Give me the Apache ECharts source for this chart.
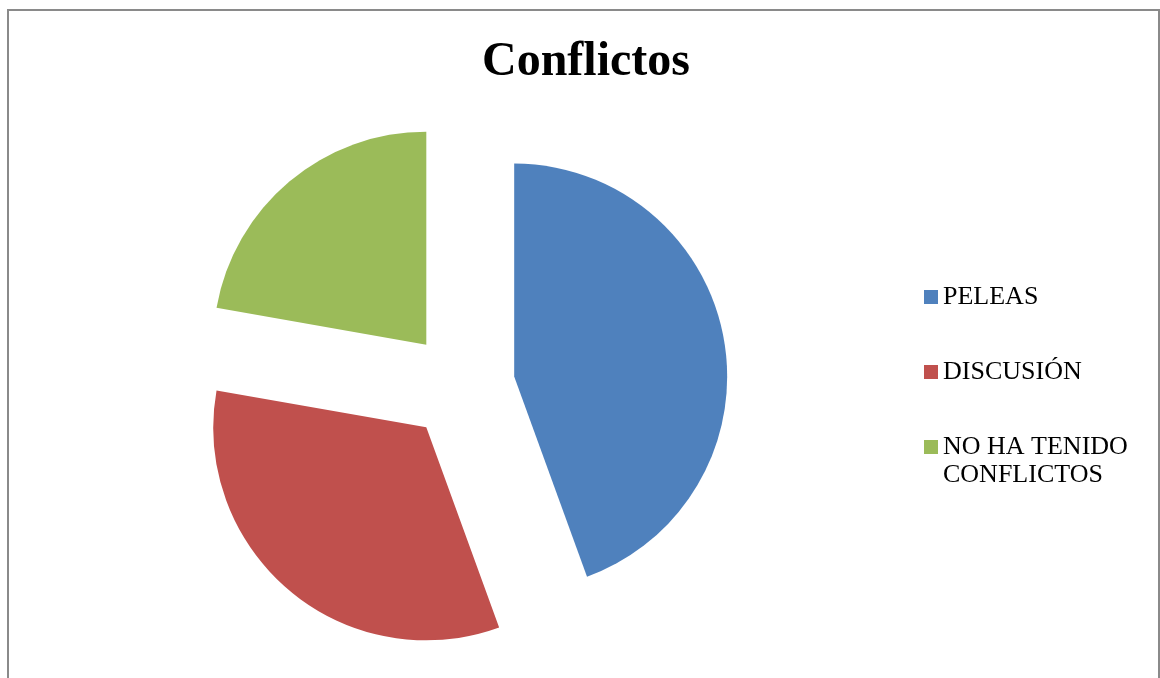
<!DOCTYPE html>
<html>
<head>
<meta charset="utf-8">
<script src="https://cdn.jsdelivr.net/npm/echarts@6/dist/echarts.min.js"></script>
<style>
html,body{margin:0;padding:0;background:#fff;}
#chart{width:1160px;height:678px;}
</style>
</head>
<body>
<div id="chart"></div>
<script>
var titleText = 'Conflictos';
var categories = ['PELEAS', 'DISCUSIÓN', 'NO HA TENIDO\nCONFLICTOS'];
var values = [8, 6, 4];
var colors = ['#4F81BD', '#C0504D', '#9BBB59'];

var chart = echarts.init(document.getElementById('chart'));
var serif = '"Liberation Serif", "Times New Roman", serif';

var pieData = categories.map(function (c, i) {
  return { name: c, value: values[i], selected: true, itemStyle: { color: colors[i] } };
});

var legendTops = [283, 358, 405];
var legends = categories.map(function (c, i) {
  return {
    data: [c],
    orient: 'vertical',
    left: 924,
    top: legendTops[i],
    padding: 0,
    itemWidth: 14,
    itemHeight: 14,
    itemGap: 0,
    icon: 'rect',
    selectedMode: false,
    formatter: function (name) {
      // keep the marker level with the first line of a two-line label
      return name.indexOf('\n') >= 0 ? ' \n' + name : name;
    },
    textStyle: {
      fontFamily: serif,
      fontSize: 26,
      color: '#000',
      lineHeight: 28
    }
  };
});

chart.setOption({
  backgroundColor: '#fff',
  animation: false,
  title: {
    text: titleText,
    left: 482,
    top: 39,
    padding: 0,
    textStyle: { fontFamily: serif, fontSize: 48, fontWeight: 'bold', color: '#000' }
  },
  legend: legends,
  graphic: [{
    type: 'rect',
    shape: { x: 8, y: 10, width: 1151, height: 720 },
    style: { fill: 'none', stroke: '#8a8a8a', lineWidth: 2 },
    silent: true,
    z: -1
  }],
  series: [{
    type: 'pie',
    center: [461, 386],
    radius: 213,
    startAngle: 90,
    clockwise: true,
    selectedMode: 'multiple',
    selectedOffset: 54,
    label: { show: false },
    labelLine: { show: false },
    emphasis: { scale: false },
    itemStyle: { borderWidth: 0 },
    data: pieData
  }]
});
</script>
</body>
</html>
